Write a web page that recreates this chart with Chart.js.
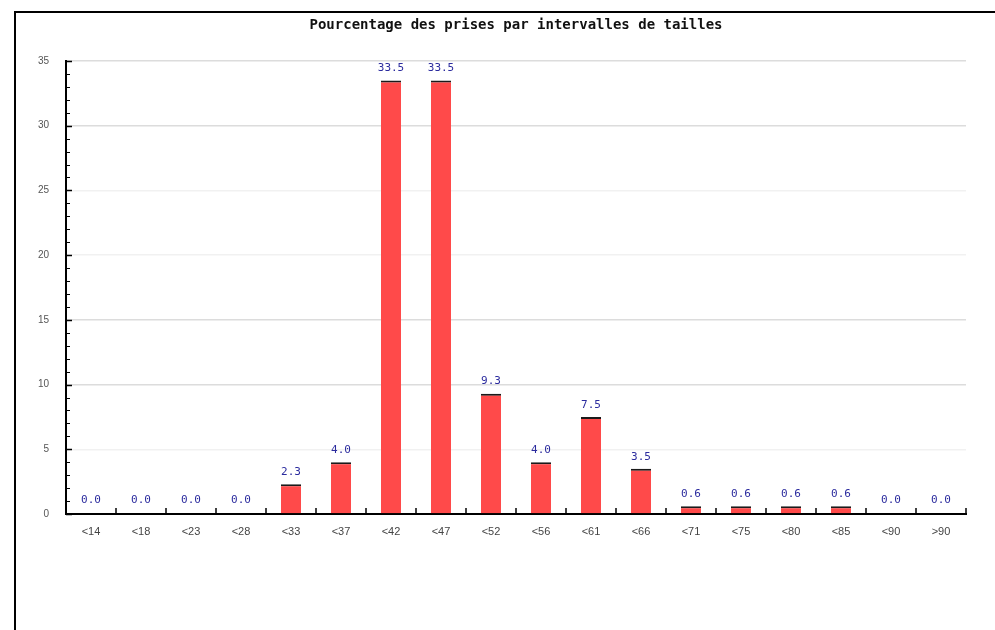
<!DOCTYPE html>
<html><head><meta charset="utf-8">
<script src="https://cdn.jsdelivr.net/npm/chart.js@4"></script>
<style>
html,body{margin:0;padding:0;background:#fff;overflow:hidden;}
#wrap{position:absolute;left:0;top:0;width:995px;height:630px;}
#frame{position:absolute;left:14px;top:11px;width:1100px;height:800px;border-left:2px solid #000;border-top:2px solid #000;pointer-events:none;}
</style></head>
<body>
<div id="wrap"><canvas id="c" width="995" height="630"></canvas></div>
<div id="frame"></div>
<script>
const titleText = "Pourcentage des prises par intervalles de tailles";
const categories = ["<14","<18","<23","<28","<33","<37","<42","<47","<52","<56","<61","<66","<71","<75","<80","<85","<90",">90"];
const percentages = [0.0,0.0,0.0,0.0,2.3,4.0,33.5,33.5,9.3,4.0,7.5,3.5,0.6,0.6,0.6,0.6,0.0,0.0];
const yTicks = [0,5,10,15,20,25,30,35];

const extras = {
  id:'extras',
  afterDraw(chart){
    const ctx = chart.ctx;
    const x = chart.scales.x, y = chart.scales.y;
    const a = chart.chartArea;
    ctx.save();
    ctx.strokeStyle = '#000';
    for(let v=0; v<=35; v++){
      const py = Math.round(y.getPixelForValue(v))+0.5;
      ctx.lineWidth = (v%5===0)?1.5:1;
      ctx.beginPath(); ctx.moveTo(a.left, py); ctx.lineTo(a.left+(v%5===0?6:4), py); ctx.stroke();
    }
    ctx.lineWidth = 1.5;
    for(let i=0;i<=categories.length;i++){
      const px = Math.round(x.getPixelForValue(i-0.5));
      ctx.beginPath(); ctx.moveTo(px, a.bottom); ctx.lineTo(px, a.bottom-6); ctx.stroke();
    }
    const meta = chart.getDatasetMeta(0);
    ctx.fillStyle = '#2b2b9e';
    ctx.font = '11px "DejaVu Sans Mono"';
    ctx.textAlign = 'center';
    ctx.textBaseline = 'middle';
    meta.data.forEach((el,i)=>{
      ctx.fillText(percentages[i].toFixed(1), el.x, el.y - (percentages[i]===0?14:12));
    });
    ctx.restore();
  }
};

new Chart(document.getElementById('c'), {
  type:'bar',
  data:{ labels:categories, datasets:[{
    data:percentages,
    backgroundColor:'#ff4a4a',
    borderColor:'#1a1a1a',
    borderWidth:(c)=> (percentages[c.dataIndex]>0 ? {top:2,left:0,right:0,bottom:0} : 0),
    borderSkipped:false,
    barPercentage:0.4,
    categoryPercentage:1
  }]},
  options:{
    responsive:false, animation:false, devicePixelRatio:1,
    layout:{padding:{left:37,right:0,top:0,bottom:0}},
    plugins:{
      legend:{display:false}, tooltip:{enabled:false},
      title:{display:true,text:titleText,color:'#111',
        font:{family:'"DejaVu Sans Mono"',size:14,weight:'bold',lineHeight:1.2},
        padding:{top:17,bottom:27.2}}
    },
    scales:{
      x:{
        grid:{display:false,drawTicks:false},
        border:{display:true,color:'#000',width:2},
        ticks:{color:'#444',font:{family:'"Liberation Sans"',size:11},padding:11,maxRotation:0,autoSkip:false},
        afterFit:(s)=>{s.height=116;}
      },
      y:{
        min:0,max:35,
        afterBuildTicks:(s)=>{s.ticks = yTicks.map(v=>({value:v}));},
        grid:{drawTicks:false,color:(c)=>{const v=c.tick.value; return (v===25||v===20||v===5)?'#f1f1f1':'#dcdcdc';},lineWidth:1.5},
        border:{display:true,color:'#000',width:2},
        ticks:{color:'#555',font:{family:'"Liberation Sans"',size:10},padding:17},
        afterFit:(s)=>{s.width=29;}
      },
      y2:{
        position:'right', display:true,
        grid:{display:false,drawTicks:false}, border:{display:false},
        ticks:{display:false},
        afterFit:(s)=>{s.width=29;}
      }
    }
  },
  plugins:[extras]
});
</script>
</body></html>
